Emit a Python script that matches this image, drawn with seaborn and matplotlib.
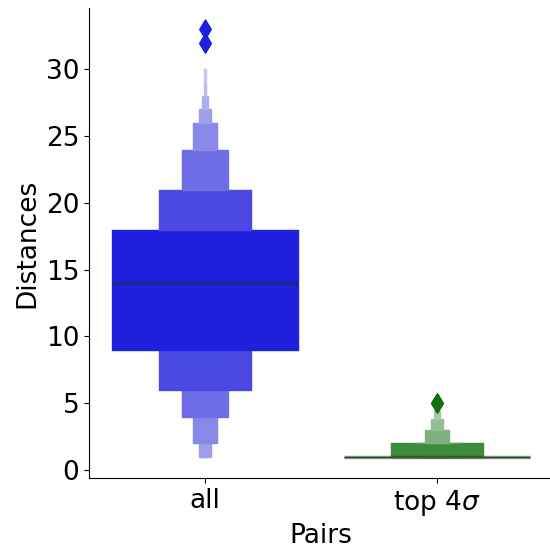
import numpy as np
import pandas as pd
import matplotlib
matplotlib.use("Agg")
import matplotlib.pyplot as plt
from matplotlib.collections import PatchCollection, PathCollection
import seaborn as sns

# -------------------------
# DATA (value counts read off the letter-value boxes)
# -------------------------
all_values = list(range(1, 34))
all_counts = [60, 60, 50, 60, 80, 100, 120, 150, 160, 170,
              170, 170, 120, 170, 160, 160, 150, 170, 130, 110,
              120, 80, 70, 60, 40, 35, 30, 22, 12, 6,
              0, 3, 2]

top_values = [1, 2, 3, 4, 5]
top_counts = [495, 70, 14, 5, 5]

categories = ["all", "top 4$\\sigma$"]
colors = ["blue", "green"]

df = pd.DataFrame({
    "Pairs": [categories[0]] * sum(all_counts) + [categories[1]] * sum(top_counts),
    "Distances": np.concatenate([np.repeat(all_values, all_counts),
                                 np.repeat(top_values, top_counts)]),
})

# -------------------------
# PLOT
# -------------------------
fig = plt.figure(figsize=(5.5, 5.48), dpi=100)
ax = fig.add_axes([89 / 550, 70 / 548, 464 / 550, 470 / 548])

sns.boxenplot(data=df, x="Pairs", y="Distances", hue="Pairs",
              palette=colors, legend=False, ax=ax,
              linewidth=1,
              line_kws=dict(color=".15", alpha=.45, linewidth=2.5),
              flier_kws=dict(marker="d", s=90))

# old-style look: box edges in the box colour, filled diamond fliers
sat = sns.color_palette(colors, desat=.75)
boxes = [c for c in ax.collections if isinstance(c, PatchCollection)]
for b in boxes:
    b.set_edgecolor(b.get_facecolor())
fliers = [c for c in ax.collections if isinstance(c, PathCollection)]
for f, col in zip(fliers, sat):
    f.set_facecolor(col)
    f.set_edgecolor(col)

ax.spines["top"].set_visible(False)
ax.spines["right"].set_visible(False)
ax.tick_params(labelsize=19)
ax.set_xlabel("Pairs", fontsize=19)
ax.set_ylabel("Distances", fontsize=19)

fig.savefig("out.png")
plt.close()
